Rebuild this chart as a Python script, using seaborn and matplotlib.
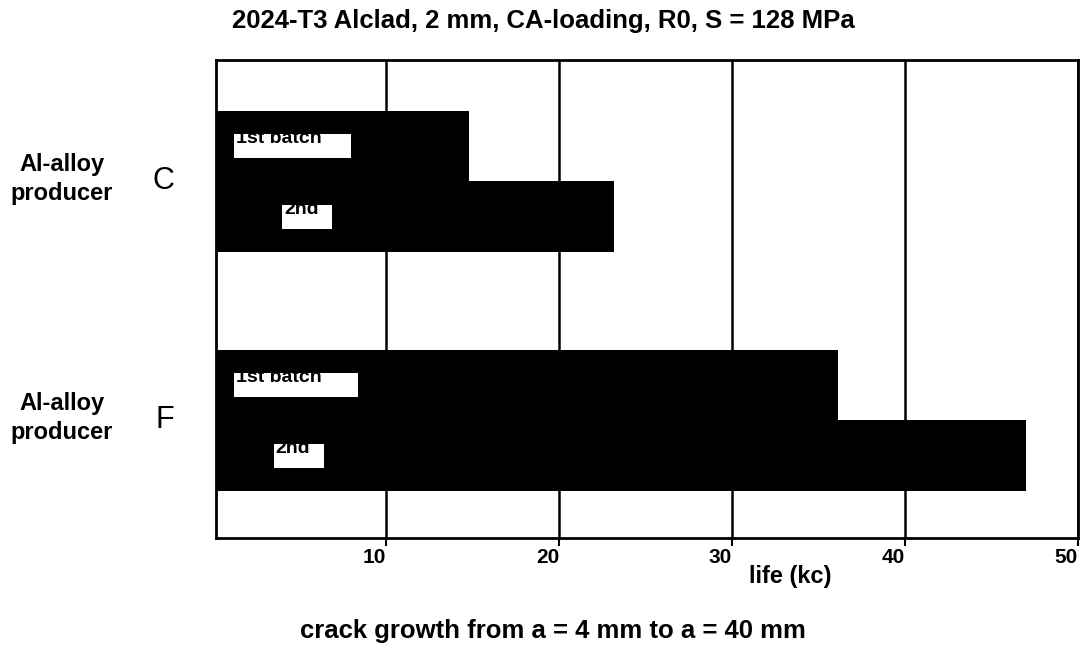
import matplotlib
matplotlib.use("Agg")
import matplotlib.pyplot as plt
from matplotlib.patches import Rectangle
import matplotlib.transforms as mtransforms
import pandas as pd
import seaborn as sns

# Fatigue life per producer and batch (kilocycles)
producers = ["C", "C", "F", "F"]
batches = ["1st batch", "2nd", "1st batch", "2nd"]
life_kc = [14.8, 23.2, 36.1, 47.0]
x_ticks = [10, 20, 30, 40, 50]
producer_caption = "Al-alloy\nproducer"
title = "2024-T3 Alclad, 2 mm, CA-loading, R0, S = 128 MPa"
x_label = "life (kc)"
footnote = "crack growth from a = 4 mm to a = 40 mm"

df = pd.DataFrame({"producer": producers, "batch": batches, "life": life_kc})

sns.set_theme(style="white")
plt.rcParams["font.family"] = ["Liberation Sans", "DejaVu Sans"]
plt.rcParams["font.weight"] = "bold"
for key in ["text.color", "axes.labelcolor", "xtick.color", "ytick.color"]:
    plt.rcParams[key] = "black"

W, H = 1080, 646
fig = plt.figure(figsize=(W / 100, H / 100), dpi=100)
fig.patch.set_facecolor("white")
ax = fig.add_axes([216 / W, 1 - 538 / H, (1078 - 216) / W, (538 - 60) / H])

sns.barplot(
    data=df, y="producer", x="life", hue="batch", orient="h",
    palette=["black", "black"], saturation=1, width=0.59, gap=0,
    linewidth=0, legend=False, errorbar=None, ax=ax,
)

ax.set_xlim(0.17, 50)
ax.set_ylim(1.492, -0.508)
ax.set_facecolor("white")
ax.set_axisbelow(True)
ax.grid(axis="x", color="black", linewidth=1.8)
ax.grid(axis="y", visible=False)
for sp in ax.spines.values():
    sp.set_visible(True)
    sp.set_color("black")
    sp.set_linewidth(2.0)

ax.set_xticks(x_ticks)
ax.set_xticklabels([str(t) for t in x_ticks], fontsize=15, fontweight="bold", ha="right")
ax.tick_params(axis="x", direction="out", length=6, width=1.5, color="black", pad=1, bottom=True)
ax.set_yticks([0, 1])
ax.set_yticklabels(["C", "F"], fontsize=22, fontweight="normal")
ax.tick_params(axis="y", length=0, pad=30)
shift = mtransforms.ScaledTranslation(0, 0.04, fig.dpi_scale_trans)
for lab in ax.get_yticklabels():
    lab.set_transform(lab.get_transform() + shift)
ax.set_xlabel("")
ax.set_ylabel("")

# white tag boxes inside each bar, text clipped to the box
bars = sorted(ax.patches, key=lambda p: p.get_y())
tag_spans = [(1.2, 8.0), (4.0, 6.9), (1.2, 8.4), (3.5, 6.4)]
for bar, label, (x0, x1) in zip(bars, batches, tag_spans):
    yc = bar.get_y() + bar.get_height() / 2
    box = Rectangle((x0, yc - 0.05), x1 - x0, 0.1, facecolor="white",
                    edgecolor="none", zorder=5)
    ax.add_patch(box)
    t = ax.text(x0 + 0.1, yc - 0.012, label, fontsize=14, fontweight="bold",
                color="black", ha="left", va="baseline", zorder=6)
    t.set_clip_path(box)

# producer captions left of the category letters
blend = mtransforms.blended_transform_factory(fig.transFigure, ax.transData)
for yv in [0, 1]:
    ax.text(62 / W, yv - 0.01, producer_caption, transform=blend, ha="center",
            va="center", fontsize=17, fontweight="bold", linespacing=1.3)

fig.text(543 / W, 1 - 21 / H, title, ha="center", va="center", fontsize=18.5, fontweight="bold")
fig.text(790 / W, 1 - 577 / H, x_label, ha="center", va="center", fontsize=17, fontweight="bold")
fig.text(553 / W, 1 - 631 / H, footnote, ha="center", va="center", fontsize=18.5, fontweight="bold")

fig.savefig("out.png", dpi=100, facecolor="white")
